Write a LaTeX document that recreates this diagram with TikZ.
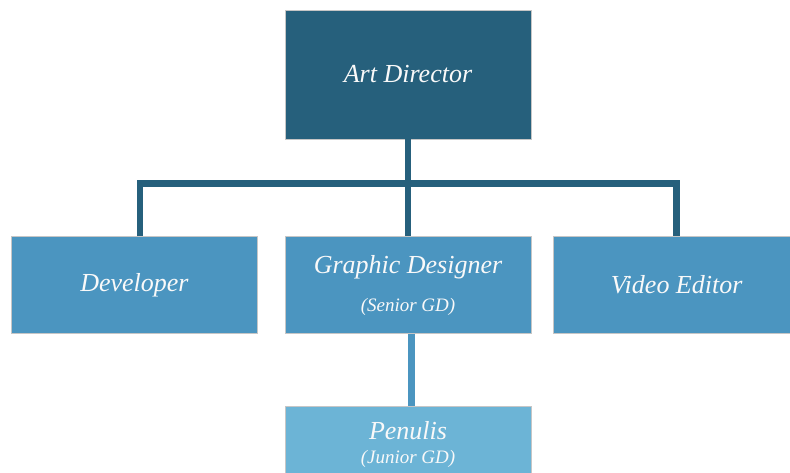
\documentclass[tikz,border=0pt]{standalone}
\usepackage{fontspec}
\setmainfont{Liberation Serif}
\usetikzlibrary{positioning}
\definecolor{topblue}{HTML}{26607C}
\definecolor{midblue}{HTML}{4B95C0}
\definecolor{lowblue}{HTML}{6CB4D6}

\begin{document}
\begin{tikzpicture}[x=1pt, y=-1pt,
    box/.style={draw=gray!45, line width=0.6pt, inner sep=0pt,
      minimum width=246pt, minimum height=97pt, text=white!95!gray,
      align=center, font=\itshape\fontsize{26}{36}\selectfont},
    toplink/.style={draw=topblue, line width=6.5pt},
    sublink/.style={draw=midblue, line width=6.5pt}]
    \useasboundingbox (0,0) rectangle (790,472);
    \clip (0,0) rectangle (790,472);
    \node[box, fill=topblue, minimum height=129pt] (art) at (408,74.5) {Art Director};
    \node[box, fill=midblue, below=97pt of art] (gd)
      {Graphic Designer\\[2pt]{\fontsize{19}{23}\selectfont (Senior GD)}};
    \node[box, fill=midblue, left=27pt of gd] (dev) {Developer};
    \node[box, fill=midblue, right=22pt of gd] (ve) {Video Editor};
    \node[box, fill=lowblue, minimum height=77pt, below=72pt of gd] (pen)
      {Penulis\\[-12pt]{\fontsize{19}{23}\selectfont (Junior GD)}};
    % links
    \coordinate (bar) at (408,183.5);
    \draw[toplink] (art.south) -- (bar) -- (gd.north);
    \draw[toplink] ([xshift=5.5pt]dev.north) |- (bar) -| (ve.north);
    \draw[sublink] ([xshift=3.5pt]gd.south) -- ([xshift=3.5pt]pen.north);
\end{tikzpicture}
\end{document}
